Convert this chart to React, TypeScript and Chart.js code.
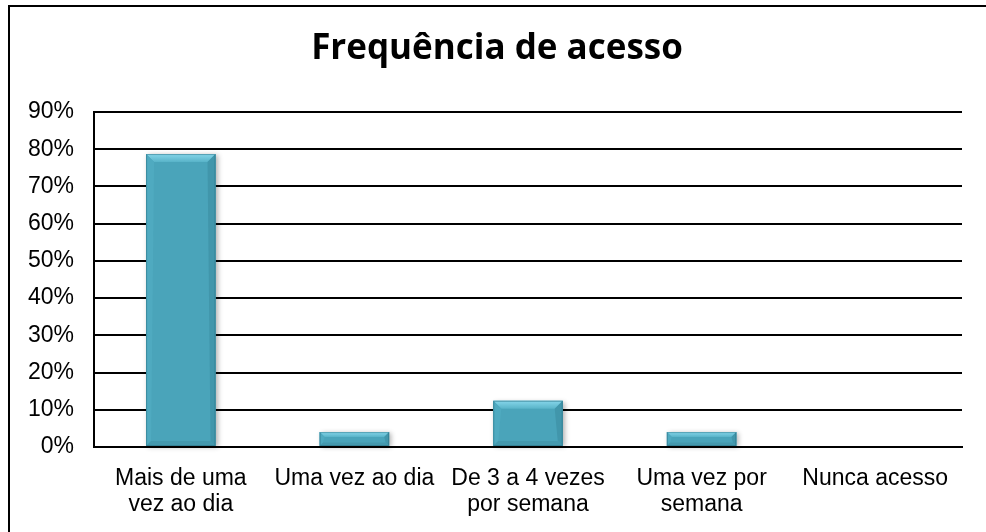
import React, { useEffect, useRef } from "react";
import { Chart, registerables } from "chart.js";

Chart.register(...registerables);

const TITLE = "Frequência de acesso";
const categories: (string | string[])[] = [
  ["Mais de uma", "vez ao dia"],
  "Uma vez ao dia",
  ["De 3 a 4 vezes", "por semana"],
  ["Uma vez por", "semana"],
  "Nunca acesso",
];
const values: number[] = [78.7, 4.0, 12.4, 4.0, 0];
const yTicks: number[] = [0, 10, 20, 30, 40, 50, 60, 70, 80, 90];

const BAR_COLOR = "#4AA4BA";

const framePlugin = {
  id: "frame",
  beforeDraw(chart: any) {
    const ctx = chart.ctx;
    ctx.save();
    ctx.fillStyle = "#ffffff";
    ctx.fillRect(0, 0, chart.width, chart.height);
    ctx.strokeStyle = "#000";
    ctx.lineWidth = 2;
    ctx.beginPath();
    ctx.moveTo(9, chart.height + 10);
    ctx.lineTo(9, 6);
    ctx.lineTo(chart.width + 10, 6);
    ctx.stroke();
    ctx.fillStyle = "#000";
    ctx.font = "bold 35px 'Open Sans'";
    ctx.textAlign = "center";
    ctx.textBaseline = "alphabetic";
    ctx.fillText(TITLE, 497, 59);
    ctx.restore();
  },
};

const bevelPlugin = {
  id: "bevel",
  beforeDatasetsDraw(chart: any) {
    const ctx = chart.ctx;
    const meta = chart.getDatasetMeta(0);
    ctx.save();
    meta.data.forEach((bar: any) => {
      const { x, y, base, width } = bar.getProps(["x", "y", "base", "width"], true);
      const h = base - y;
      if (h <= 0.5) return;
      ctx.shadowColor = "rgba(0,0,0,0.3)";
      ctx.shadowBlur = 5;
      ctx.shadowOffsetX = 2;
      ctx.shadowOffsetY = 1;
      ctx.fillStyle = BAR_COLOR;
      ctx.fillRect(x - width / 2, y, width, h);
    });
    ctx.restore();
  },
  afterDatasetsDraw(chart: any) {
    const ctx = chart.ctx;
    const meta = chart.getDatasetMeta(0);
    ctx.save();
    meta.data.forEach((bar: any) => {
      const { x, y, base, width } = bar.getProps(["x", "y", "base", "width"], true);
      const h = base - y;
      if (h <= 0.5) return;
      const l = x - width / 2;
      const r = x + width / 2;
      const b = Math.min(8, h * 0.35);
      const bb = Math.min(5, h * 0.25);
      const g = ctx.createLinearGradient(0, y, 0, y + b);
      g.addColorStop(0, "#86D6EA");
      g.addColorStop(1, "#58B3C8");
      ctx.fillStyle = g;
      ctx.beginPath();
      ctx.moveTo(l, y);
      ctx.lineTo(r, y);
      ctx.lineTo(r - b, y + b);
      ctx.lineTo(l + b, y + b);
      ctx.closePath();
      ctx.fill();
      ctx.fillStyle = "#4FAAC0";
      ctx.beginPath();
      ctx.moveTo(l, y);
      ctx.lineTo(l + b, y + b);
      ctx.lineTo(l + bb, base - bb);
      ctx.lineTo(l, base);
      ctx.closePath();
      ctx.fill();
      ctx.fillStyle = "#4196AB";
      ctx.beginPath();
      ctx.moveTo(r, y);
      ctx.lineTo(r - b, y + b);
      ctx.lineTo(r - bb, base - bb);
      ctx.lineTo(r, base);
      ctx.closePath();
      ctx.fill();
      ctx.fillStyle = "#4499AE";
      ctx.beginPath();
      ctx.moveTo(l, base);
      ctx.lineTo(l + bb, base - bb);
      ctx.lineTo(r - bb, base - bb);
      ctx.lineTo(r, base);
      ctx.closePath();
      ctx.fill();
      ctx.strokeStyle = "rgba(40,110,128,0.5)";
      ctx.lineWidth = 1;
      ctx.strokeRect(l + 0.5, y + 0.5, width - 1, h - 1);
    });
    ctx.restore();
  },
};

export default function App() {
  const ref = useRef<HTMLCanvasElement | null>(null);
  useEffect(() => {
    if (!ref.current) return;
    const chart = new Chart(ref.current, {
      type: "bar",
      data: {
        labels: categories,
        datasets: [
          {
            data: values,
            backgroundColor: BAR_COLOR,
            borderWidth: 0,
            categoryPercentage: 0.8,
            barPercentage: 0.5,
          },
        ],
      },
      options: {
        animation: false,
        responsive: true,
        maintainAspectRatio: false,
        layout: { padding: { left: 0, top: 112, right: 24, bottom: 0 } },
        plugins: {
          legend: { display: false },
          tooltip: { enabled: false },
          title: { display: false },
        },
        scales: {
          x: {
            grid: { display: false, drawTicks: false },
            border: { display: true, color: "#000", width: 2 },
            ticks: {
              color: "#000",
              font: { family: "'Liberation Sans', Arial", size: 23, lineHeight: 1.15 },
              padding: 18,
              maxRotation: 0,
              autoSkip: false,
            },
            afterFit(scale: any) {
              scale.height = 85;
            },
          },
          y: {
            min: 0,
            max: 90,
            afterBuildTicks(scale: any) {
              scale.ticks = yTicks.map((v) => ({ value: v }));
            },
            grid: { color: "#000", lineWidth: 2, drawTicks: false },
            border: { display: true, color: "#000", width: 2 },
            ticks: {
              color: "#000",
              font: { family: "'Liberation Sans', Arial", size: 23 },
              padding: 20,
              callback: (v: any) => `${v}%`,
            },
            afterFit(scale: any) {
              scale.width = 94;
            },
          },
        },
      },
      plugins: [framePlugin, bevelPlugin],
    });
    return () => chart.destroy();
  }, []);
  return (
    <div style={{ position: "fixed", left: 0, top: 0, width: 986, height: 532, background: "#fff" }}>
      <canvas ref={ref} />
    </div>
  );
}
